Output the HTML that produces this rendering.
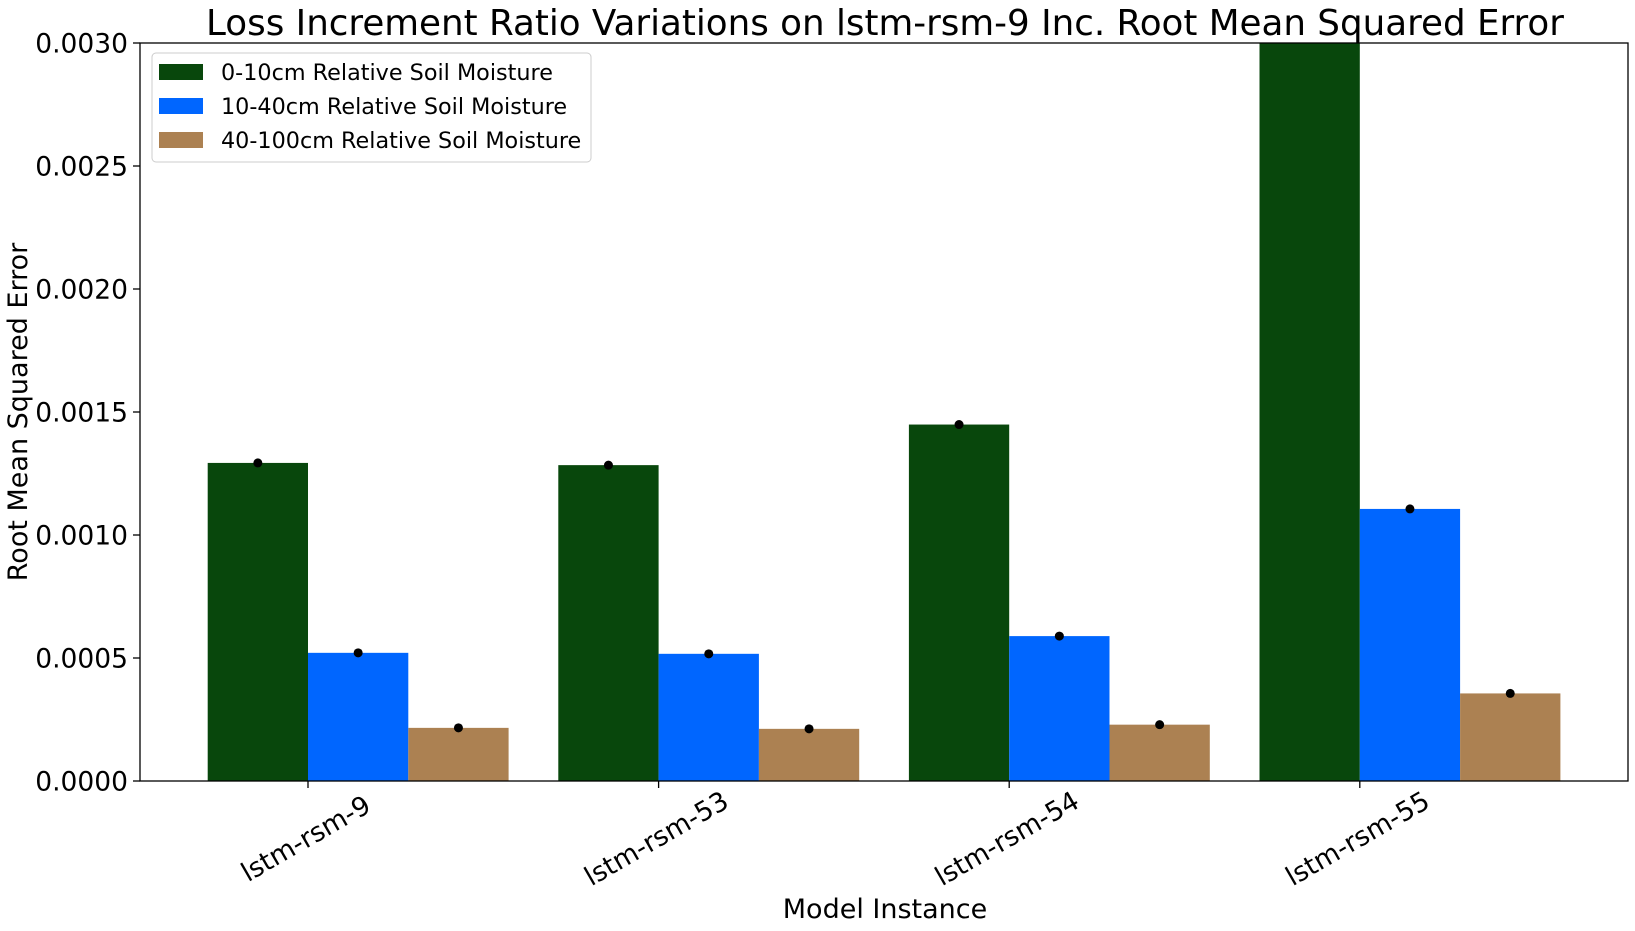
<!DOCTYPE html>
<html><head><meta charset="utf-8"><style>
html,body{margin:0;padding:0;background:#fff;}
svg{display:block;font-family:"DejaVu Sans","Liberation Sans",sans-serif;}
</style></head><body>
<svg id="chart" width="1635" height="931">
<text x="885" y="35" text-anchor="middle" font-size="35.7">Loss Increment Ratio Variations on lstm-rsm-9 Inc. Root Mean Squared Error</text>
<g id="bars"></g>
<g id="axes"></g>
<rect x="140" y="43" width="1488" height="738" fill="none" stroke="#000" stroke-width="1.3"/>
<text x="885" y="918" text-anchor="middle" font-size="27">Model Instance</text>
<text transform="translate(27,412) rotate(-90)" text-anchor="middle" font-size="27">Root Mean Squared Error</text>
<g>
<rect x="152" y="53" width="439" height="109" rx="4" fill="#fff" stroke="#ccc"/>
<g><rect x="159" y="64" width="44" height="16" fill="#08470c"/><text x="221" y="80" font-size="22.3">0-10cm Relative Soil Moisture</text></g>
<g><rect x="159" y="98" width="44" height="16" fill="#0066ff"/><text x="221" y="114" font-size="22.3">10-40cm Relative Soil Moisture</text></g>
<g><rect x="159" y="132" width="44" height="16" fill="#ac8152"/><text x="221" y="148" font-size="22.3">40-100cm Relative Soil Moisture</text></g>
</g>
</svg>
<script>
const categories = ["lstm-rsm-9","lstm-rsm-53","lstm-rsm-54","lstm-rsm-55"];
const series0 = [0.001293,0.001284,0.001449,0.0035];
const series1 = [0.000521,0.000517,0.000589,0.001106];
const series2 = [0.000216,0.000212,0.000229,0.000356];
const yTicks = ["0.0000","0.0005","0.0010","0.0015","0.0020","0.0025","0.0030"];
const colors = ["#08470c","#0066ff","#ac8152"];
const NS="http://www.w3.org/2000/svg";
const L=140,R=1628,T=43,B=781,YMAX=0.003;
const y=v=>B-(v/YMAX)*(B-T);
const x0=308,step=350.6,bw=100.3;
const xc=i=>x0+i*step;
const bars=document.getElementById('bars'),axes=document.getElementById('axes');
function mk(tag,attrs,parent){const e=document.createElementNS(NS,tag);for(const k in attrs)e.setAttribute(k,attrs[k]);parent.appendChild(e);return e;}
const clip=mk('clipPath',{id:'pc'},bars);mk('rect',{x:L,y:T,width:R-L,height:B-T},clip);
const g=mk('g',{'clip-path':'url(#pc)'},bars);
[series0,series1,series2].forEach((s,si)=>{
  s.forEach((v,i)=>{
    const left=xc(i)+(si-1)*bw;
    const r=mk('rect',{x:left,y:y(v),width:bw,height:B-y(v),fill:colors[si]},g);
    
    
    const c=mk('circle',{cx:left+bw/2,cy:y(v),r:4.5,fill:'#000'},g);
    
    
  });
});
yTicks.forEach(t=>{
  const yy=y(parseFloat(t));
  mk('line',{x1:L-7,x2:L,y1:yy,y2:yy,stroke:'#000','stroke-width':1.3},axes);
  const tx=mk('text',{x:L-12,y:yy+9.5,'text-anchor':'end','font-size':26.5},axes);
  tx.textContent=t;
  
  
});
categories.forEach((c,i)=>{
  const xx=xc(i);
  mk('line',{x1:xx,x2:xx,y1:B,y2:B+7,stroke:'#000','stroke-width':1.3},axes);
  const tx=mk('text',{x:0,y:0,'text-anchor':'middle','dominant-baseline':'central','font-size':26.5,transform:`translate(${xx-2},${B+58}) rotate(-30)`},axes);
  tx.textContent=c;
  
  
});
</script>
</body></html>
